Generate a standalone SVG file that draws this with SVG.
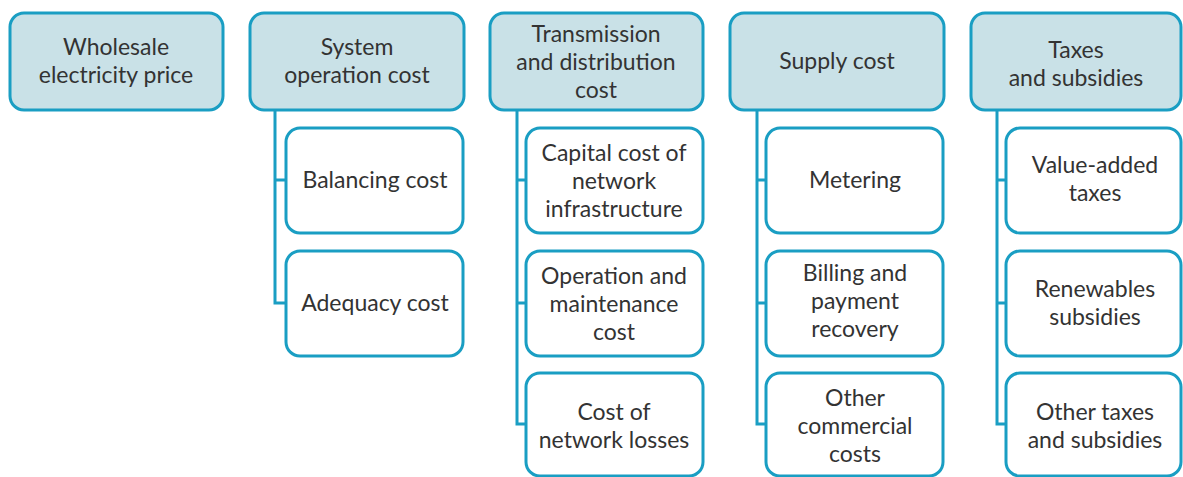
<svg xmlns="http://www.w3.org/2000/svg" width="1183" height="477" viewBox="0 0 1183 477">
<style>
.p{fill:#c9e1e7;stroke:#1a9ec3;stroke-width:3}
.c{fill:#ffffff;stroke:#1a9ec3;stroke-width:3}
.l{fill:none;stroke:#1a9ec3;stroke-width:3}
text{font-family:Lato,"Open Sans",sans-serif;font-size:23px;fill:#333333;text-anchor:middle}
</style>
<rect width="1183" height="477" fill="#ffffff"/>
<g id="connectors">
<path class="l" d="M275 110 V303 H286 M275 180 H286"/>
<path class="l" d="M517 110 V424 H526 M517 180 H526 M517 303 H526"/>
<path class="l" d="M757 110 V424 H766 M757 180 H766 M757 303 H766"/>
<path class="l" d="M997 110 V424 H1006 M997 180 H1006 M997 303 H1006"/>
</g>
<g id="wholesale"><rect class="p" x="10" y="13" width="213" height="97" rx="14"/><text x="116" y="55">Wholesale</text><text x="116" y="83">electricity price</text></g>
<g id="system"><rect class="p" x="250" y="13" width="214" height="97" rx="14"/><text x="357" y="55">System</text><text x="357" y="83">operation cost</text></g>
<g id="td"><rect class="p" x="490" y="13" width="213" height="97" rx="14"/><text x="596" y="42">Transmission</text><text x="596" y="70">and distribution</text><text x="596" y="98">cost</text></g>
<g id="supply"><rect class="p" x="730" y="13" width="214" height="97" rx="14"/><text x="837" y="69">Supply cost</text></g>
<g id="taxes"><rect class="p" x="971" y="13" width="210" height="97" rx="14"/><text x="1076" y="58">Taxes</text><text x="1076" y="86">and subsidies</text></g>
<g id="balancing"><rect class="c" x="286" y="128" width="177" height="105" rx="14"/><text x="375" y="188">Balancing cost</text></g>
<g id="adequacy"><rect class="c" x="286" y="251" width="177" height="105" rx="14"/><text x="375" y="311">Adequacy cost</text></g>
<g id="capital"><rect class="c" x="526" y="128" width="177" height="105" rx="14"/><text x="614" y="161">Capital cost of</text><text x="614" y="189">network</text><text x="614" y="217">infrastructure</text></g>
<g id="om"><rect class="c" x="526" y="251" width="177" height="105" rx="14"/><text x="614" y="284">Operation and</text><text x="614" y="312">maintenance</text><text x="614" y="340">cost</text></g>
<g id="losses"><rect class="c" x="526" y="373" width="177" height="103" rx="14"/><text x="614" y="420">Cost of</text><text x="614" y="448">network losses</text></g>
<g id="metering"><rect class="c" x="766" y="128" width="177" height="105" rx="14"/><text x="855" y="188">Metering</text></g>
<g id="billing"><rect class="c" x="766" y="251" width="177" height="105" rx="14"/><text x="855" y="281">Billing and</text><text x="855" y="309">payment</text><text x="855" y="337">recovery</text></g>
<g id="othercom"><rect class="c" x="766" y="373" width="177" height="103" rx="14"/><text x="855" y="406">Other</text><text x="855" y="434">commercial</text><text x="855" y="462">costs</text></g>
<g id="vat"><rect class="c" x="1006" y="128" width="175" height="105" rx="14"/><text x="1095" y="173">Value-added</text><text x="1095" y="201">taxes</text></g>
<g id="renew"><rect class="c" x="1006" y="251" width="175" height="105" rx="14"/><text x="1095" y="297">Renewables</text><text x="1095" y="325">subsidies</text></g>
<g id="othertax"><rect class="c" x="1006" y="373" width="175" height="103" rx="14"/><text x="1095" y="420">Other taxes</text><text x="1095" y="448">and subsidies</text></g>
</svg>
